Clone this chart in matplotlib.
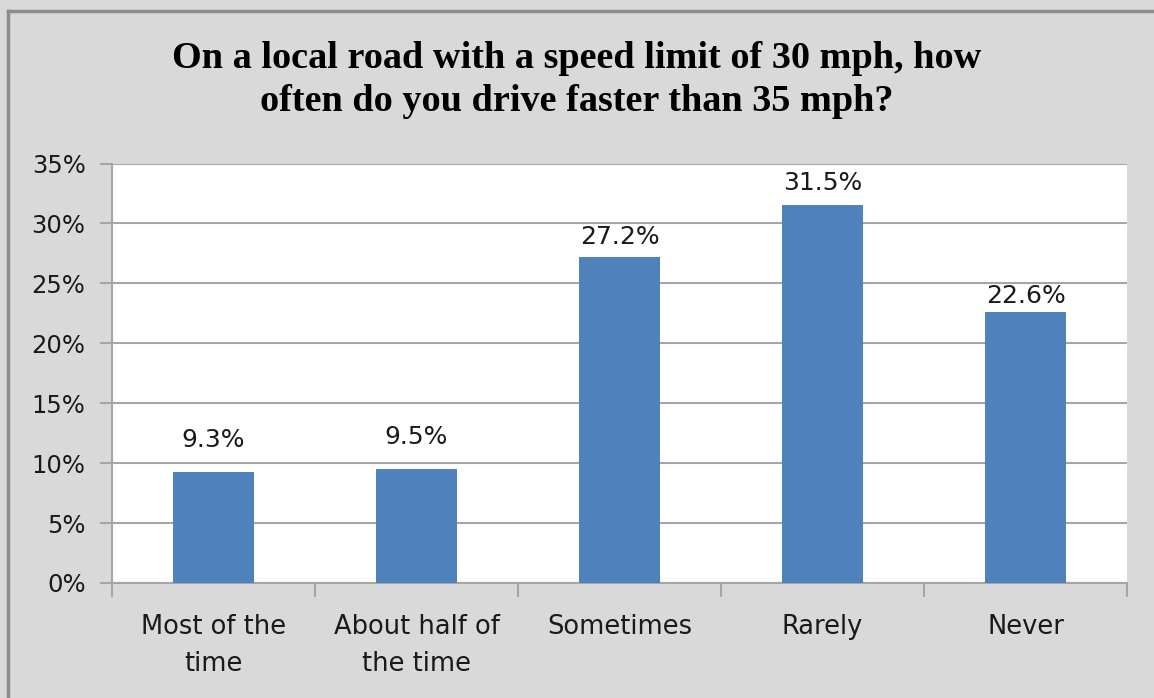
import matplotlib
matplotlib.use("Agg")
import matplotlib.pyplot as plt
from matplotlib.lines import Line2D
from matplotlib.ticker import FuncFormatter, FixedLocator

categories = ["Most of the\ntime", "About half of\nthe time", "Sometimes", "Rarely", "Never"]
values = [0.093, 0.095, 0.272, 0.315, 0.226]
value_labels = ["9.3%", "9.5%", "27.2%", "31.5%", "22.6%"]
title = "On a local road with a speed limit of 30 mph, how\noften do you drive faster than 35 mph?"

# label lift above bar top, in pixels (Excel nudges them off the gridlines)
label_lift = [32, 32, 20, 22, 16]

bg = "#d9d9d9"
bar_color = "#4f81bd"
grid_color = "#a6a6a6"

fig = plt.figure(figsize=(11.54, 6.98), dpi=100, facecolor=bg)
ax = fig.add_axes([112 / 1154, 1 - 583 / 698, (1127 - 112) / 1154, (583 - 163.5) / 698])
ax.set_facecolor("white")

x = list(range(len(categories)))
ax.bar(x, values, width=0.40, color=bar_color, zorder=3)
for xi, v, lab, lift in zip(x, values, value_labels, label_lift):
    ax.annotate(lab, (xi, v), xytext=(0, lift), textcoords="offset pixels",
                ha="center", va="center", fontsize=18, color="#1a1a1a",
                family="DejaVu Sans")

ax.set_xlim(-0.5, len(categories) - 0.5)
ax.set_ylim(0, 0.35)
ax.set_yticks([i * 0.05 for i in range(8)])
ax.yaxis.set_major_formatter(FuncFormatter(lambda v, p: f"{v * 100:.0f}%"))
ax.grid(axis="y", color=grid_color, linewidth=1.5, zorder=0)

ax.xaxis.set_major_locator(FixedLocator([i - 0.5 for i in range(len(categories) + 1)]))
ax.xaxis.set_major_formatter(FuncFormatter(lambda v, p: ""))
ax.xaxis.set_minor_locator(FixedLocator(x))
ax.set_xticklabels(categories, minor=True)
ax.tick_params(axis="x", which="major", length=10, width=1.5, color=grid_color, direction="out")
ax.tick_params(axis="x", which="minor", length=0, pad=22, labelsize=18.5, labelcolor="#1a1a1a")
ax.tick_params(axis="y", length=9, width=1.5, color=grid_color, pad=10,
               labelsize=17.5, labelcolor="#1a1a1a")
for lab in ax.get_xticklabels(minor=True):
    lab.set_linespacing(1.55)
    lab.set_family("DejaVu Sans")
for lab in ax.get_yticklabels():
    lab.set_family("DejaVu Sans")

for s in ["top", "right"]:
    ax.spines[s].set_visible(False)
for s in ["left", "bottom"]:
    ax.spines[s].set_color(grid_color)
    ax.spines[s].set_linewidth(1.5)

fig.text(0.5, 1 - 80 / 698, title, ha="center", va="center", fontsize=27.5,
         fontweight="bold", family="Liberation Serif", linespacing=1.33)

# outer chart border (only top and left visible)
fig.add_artist(Line2D([7.5 / 1154, 7.5 / 1154], [0, 1 - 10.5 / 698], color="#8c8c8c", linewidth=2.5))
fig.add_artist(Line2D([7.5 / 1154, 1], [1 - 10.5 / 698, 1 - 10.5 / 698], color="#8c8c8c", linewidth=2.5))

fig.savefig("out.png", dpi=100, facecolor=bg)
